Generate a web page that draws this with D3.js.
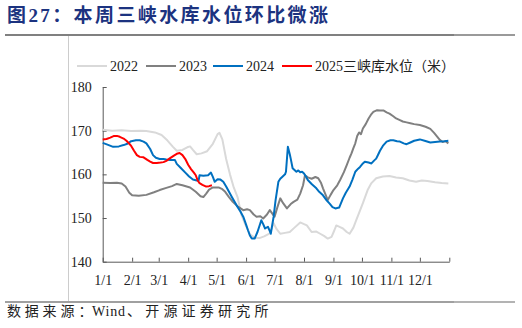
<!DOCTYPE html>
<html>
<head>
<meta charset="utf-8">
<script src="https://cdn.jsdelivr.net/npm/d3@7"></script>
<style>
  html, body { margin: 0; padding: 0; background: #fff; }
  svg { display: block; }
</style>
</head>
<body>
<svg id="chart" width="522" height="328"></svg>
<script>
// Three Gorges reservoir water level (m), by day of year
const monthLabels = ["1/1","2/1","3/1","4/1","5/1","6/1","7/1","8/1","9/1","10/1","11/1","12/1"];
const monthDays = [0,31,59,90,120,151,181,212,243,273,304,334];
const yTicks = [140,150,160,170,180];
const seriesNames = ["2022","2023","2024","2025三峡库水位（米）"];
const seriesColors = ["#d9d9d9","#808080","#0070c0","#ff0000"];

const level2022 = [[0,170.2],[10,170.0],[20,170.1],[30,169.9],[40,170.0],[46,169.9],[55,169.6],[62,169.0],[68,167.8],[74,166.3],[78,165.4],[84,165.6],[89,166.2],[92,166.4],[95,165.6],[99,164.6],[104,164.8],[110,165.3],[116,167.0],[121,169.2],[123,169.5],[126,168.0],[130,163.5],[134,160.0],[138,157.0],[142,154.8],[146,150.8],[150,148.6],[155,146.3],[160,145.5],[165,145.4],[170,145.8],[176,146.5],[180,148.8],[183,147.5],[187,146.4],[192,146.6],[197,146.8],[202,147.8],[208,149.0],[212,148.6],[215,148.3],[220,146.8],[225,146.9],[229,146.4],[233,145.9],[237,145.3],[241,145.7],[244,147.2],[246,148.3],[250,147.9],[253,147.6],[257,146.8],[260,146.4],[264,147.8],[267,149.5],[270,151.2],[274,153.4],[279,156.4],[283,158.0],[288,159.1],[295,159.5],[302,159.6],[309,159.3],[316,159.1],[323,158.6],[330,158.3],[336,158.6],[342,158.5],[350,158.2],[357,158.0],[364,157.9]];

const level2023 = [[0,158.1],[8,158.0],[15,158.1],[20,157.9],[24,157.2],[28,155.8],[31,155.2],[38,155.1],[46,155.3],[54,155.9],[60,156.4],[67,156.9],[73,157.3],[78,157.8],[84,157.5],[92,157.0],[98,156.0],[103,155.0],[106,154.8],[109,155.6],[112,156.5],[116,157.0],[122,157.0],[126,156.6],[129,156.0],[133,154.8],[137,153.7],[142,152.7],[148,151.8],[152,152.0],[155,151.8],[159,150.8],[162,150.3],[166,150.4],[169,149.9],[173,150.8],[176,151.8],[179,150.9],[181,150.3],[184,152.5],[187,154.5],[190,153.4],[194,152.2],[198,153.2],[201,153.7],[205,154.2],[208,155.6],[211,157.5],[213,159.8],[216,159.3],[220,159.0],[224,159.4],[227,159.1],[230,158.0],[232,156.8],[235,155.2],[237,154.1],[240,155.3],[243,156.4],[247,157.5],[250,158.7],[254,160.5],[257,162.1],[260,163.8],[262,164.8],[264,166.0],[266,167.1],[268,168.8],[270,169.6],[272,169.2],[274,170.5],[277,171.5],[280,172.8],[283,173.8],[285,174.3],[289,174.7],[292,174.6],[296,174.6],[299,174.2],[302,173.9],[306,173.3],[309,172.8],[313,172.4],[316,172.1],[320,171.9],[324,171.7],[328,171.5],[334,171.3],[340,170.9],[345,170.4],[349,169.5],[352,168.7],[355,167.9],[358,167.4],[361,167.6],[364,167.1]];

const level2024 = [[0,167.2],[5,166.8],[11,166.3],[17,166.4],[22,166.7],[26,167.0],[30,167.6],[35,167.8],[39,167.8],[43,167.5],[46,167.1],[50,165.8],[53,164.4],[56,163.8],[60,163.5],[64,163.5],[67,163.4],[71,163.3],[76,163.3],[78,162.4],[82,161.5],[87,160.4],[91,159.5],[95,158.8],[99,158.6],[101,158.6],[102,159.8],[106,159.7],[111,159.8],[114,160.4],[116,159.4],[118,158.3],[121,158.9],[124,158.8],[127,158.3],[130,157.2],[133,156.0],[136,154.8],[141,152.9],[145,151.5],[148,150.3],[151,148.5],[153,147.2],[155,146.0],[157,145.3],[160,145.3],[163,146.8],[166,148.8],[167,149.5],[169,148.6],[171,147.6],[174,148.0],[176,147.0],[177,146.4],[180,150.3],[182,154.0],[185,158.3],[187,159.0],[189,159.4],[192,160.0],[193,160.6],[195,166.3],[197,164.6],[198,163.6],[200,161.4],[202,161.0],[204,160.6],[206,160.9],[208,160.5],[210,160.6],[212,160.2],[214,159.5],[216,158.7],[220,157.8],[225,156.8],[228,156.0],[232,155.2],[236,154.0],[239,153.3],[242,152.5],[245,152.2],[249,152.4],[253,154.5],[256,155.8],[260,157.2],[263,158.8],[266,160.6],[269,161.3],[271,161.7],[274,162.5],[276,162.9],[280,162.7],[283,162.5],[286,163.2],[288,163.6],[290,164.5],[292,165.4],[295,166.5],[299,167.5],[303,167.8],[306,167.8],[310,167.6],[313,167.5],[317,167.1],[320,166.9],[324,167.3],[328,167.7],[334,168.0],[339,167.7],[345,167.3],[350,167.4],[355,167.5],[360,167.6],[364,167.7]];

const level2025 = [[0,168.0],[4,168.1],[8,168.4],[12,168.8],[15,168.8],[18,168.6],[22,168.2],[25,167.7],[28,167.0],[30,166.5],[33,165.4],[36,164.4],[39,164.0],[43,163.9],[47,163.3],[50,162.9],[53,162.6],[57,162.6],[61,162.7],[64,162.8],[67,163.1],[71,163.7],[75,164.3],[78,164.7],[81,164.9],[84,164.4],[87,163.5],[90,162.2],[93,161.2],[96,160.4],[98,159.8],[100,158.6],[102,158.0],[105,157.6],[109,157.2],[112,157.3],[115,157.5]];

const allSeries = [level2022, level2023, level2024, level2025];

const svg = d3.select("#chart");
const serif = "'Liberation Serif','Times New Roman','Noto Sans CJK SC',serif";

// Header and frame rules
svg.append("text")
  .attr("x", 7).attr("y", 22)
  .attr("fill", "#1c3380")
  .attr("font-family", "'Liberation Serif','Noto Sans CJK SC',sans-serif")
  .attr("font-weight", 700)
  .attr("font-size", 19)
  .attr("letter-spacing", 2.4)
  .text("图27：本周三峡水库水位环比微涨");

svg.append("line").attr("x1", 5).attr("x2", 454).attr("y1", 35).attr("y2", 35)
  .attr("stroke", "#808080").attr("stroke-width", 2);
svg.append("line").attr("x1", 454).attr("x2", 515).attr("y1", 35).attr("y2", 35)
  .attr("stroke", "#9a9a9a").attr("stroke-width", 2);
svg.append("line").attr("x1", 5).attr("x2", 454).attr("y1", 302).attr("y2", 302)
  .attr("stroke", "#808080").attr("stroke-width", 1.5);
svg.append("line").attr("x1", 454).attr("x2", 515).attr("y1", 302).attr("y2", 302)
  .attr("stroke", "#9a9a9a").attr("stroke-width", 1.5);
svg.append("line").attr("x1", 68.5).attr("x2", 68.5).attr("y1", 36).attr("y2", 301)
  .attr("stroke", "#cccccc").attr("stroke-width", 1);

// Source note: CJK runs are spaced wider than the Latin word
const source = svg.append("text")
  .attr("x", 7).attr("y", 316)
  .attr("fill", "#222")
  .attr("font-family", serif)
  .attr("font-size", 14);
source.append("tspan").attr("letter-spacing", 3.8).text("数据来源");
source.append("tspan").attr("x", 78.5).text("：");
source.append("tspan").attr("x", 92).attr("letter-spacing", 0.8).text("Wind");
source.append("tspan").attr("x", 127).attr("letter-spacing", 4.2).text("、开源证券研究所");

// Scales
const x = d3.scaleLinear().domain([0, 365]).range([102.7, 449.3]);
const y = d3.scaleLinear().domain([140, 180]).range([261.7, 87]);

// Y axis
const yAxis = svg.append("g")
  .attr("transform", `translate(${x(0)},0)`)
  .call(d3.axisLeft(y).tickValues(yTicks).tickSize(-4).tickSizeOuter(0).tickPadding(11));
yAxis.select(".domain").attr("stroke", "#595959");
yAxis.selectAll(".tick line").attr("stroke", "#595959");
yAxis.selectAll(".tick text").attr("font-family", serif).attr("font-size", 14).attr("fill", "#222");

// X axis
const xTickVals = monthDays.concat([365]);
const xAxis = svg.append("g")
  .attr("transform", `translate(0,${y(140)})`)
  .call(d3.axisBottom(x).tickValues(xTickVals).tickSize(-4).tickSizeOuter(0).tickPadding(13)
    .tickFormat((d, i) => i < monthLabels.length ? monthLabels[i] : ""));
xAxis.select(".domain").attr("stroke", "#595959");
xAxis.selectAll(".tick line").attr("stroke", "#595959");
xAxis.selectAll(".tick text").attr("font-family", serif).attr("font-size", 14).attr("fill", "#222");

// Lines
const line = d3.line().x(d => x(d[0])).y(d => y(d[1])).curve(d3.curveLinear);
svg.append("g").selectAll("path")
  .data(allSeries)
  .join("path")
  .attr("d", line)
  .attr("fill", "none")
  .attr("stroke", (d, i) => seriesColors[i])
  .attr("stroke-width", 2)
  .attr("stroke-linejoin", "round");

// Legend
const legendX = [77, 146, 213, 282];
const legend = svg.append("g");
seriesNames.forEach((name, i) => {
  legend.append("line")
    .attr("x1", legendX[i]).attr("x2", legendX[i] + 30)
    .attr("y1", 66).attr("y2", 66)
    .attr("stroke", seriesColors[i]).attr("stroke-width", 2);
  legend.append("text")
    .attr("x", legendX[i] + 33).attr("y", 66).attr("dy", "0.35em")
    .attr("font-family", serif).attr("font-size", 14).attr("fill", "#222")
    .text(name);
});
</script>
</body>
</html>
